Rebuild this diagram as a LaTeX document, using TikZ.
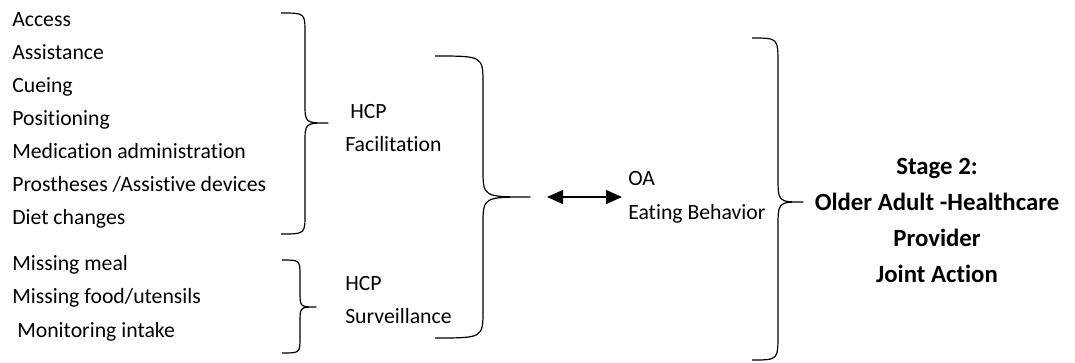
\documentclass[tikz,border=0pt]{standalone}
\usepackage{fontspec}
\setmainfont[RawFeature={-liga;-clig;-calt;-dlig}]{Carlito}
\usetikzlibrary{arrows.meta}
\begin{document}
\begin{tikzpicture}[x=0.75pt,y=-0.75pt,
  item/.style={anchor=base west,inner sep=0pt,font=\fontsize{16.3}{19}\selectfont},
  stage/.style={anchor=base,inner sep=0pt,font=\fontsize{18.6}{22}\selectfont\bfseries},
  bracket/.style={line width=0.9pt,line join=round},
  link/.style={line width=1pt,{Triangle[length=12pt,width=10.5pt]}-{Triangle[length=12pt,width=10.5pt]}}]
\useasboundingbox (0,0) rectangle (1075,362);
% right-facing curly brace: #1 x of ends, #2 x of spine, #3 x of tip,
% #4 top y, #5 tip y, #6 bottom y, #7 corner radius
\newcommand{\curlybrace}[7]{%
  \draw[bracket] (#1,#4) .. controls (#2,#4) .. (#2,#4+#7)
    -- (#2,#5-#7) .. controls (#2,#5) .. (#3,#5)
    .. controls (#2,#5) .. (#2,#5+#7)
    -- (#2,#6-#7) .. controls (#2,#6) .. (#1,#6);}
% facilitation items
\node[item] (f1) at (12,26)  {Access};
\node[item] (f2) at (12,59)  {Assistance};
\node[item] (f3) at (12,92)  {Cueing};
\node[item] (f4) at (12,125) {Positioning};
\node[item] (f5) at (12,158) {Medication administration};
\node[item] (f6) at (12,191) {Prostheses /Assistive devices};
\node[item] (f7) at (12,224) {Diet changes};
% surveillance items
\node[item] (s1) at (12,270) {Missing meal};
\node[item] (s2) at (12,303) {Missing food/utensils};
\node[item] (s3) at (17,337) {Monitoring intake};
% braces
\curlybrace{281}{305}{328}{13}{123}{234}{20}
\curlybrace{282}{300}{316}{260}{307}{353}{16}
\curlybrace{435}{483}{530}{56}{197}{338}{28}
\curlybrace{752}{778}{803}{38}{202}{360}{26}
% middle column
\node[item] (h1) at (350,118) {HCP};
\node[item] (h2) at (345,151) {Facilitation};
\node[item] (h3) at (345,290) {HCP};
\node[item] (h4) at (345,323) {Surveillance};
% OA behaviour
\node[item] (oa1) at (628,185) {OA};
\node[item] (oa2) at (628,219) {Eating Behavior};
\coordinate (al) at (547,197);
\coordinate (ar) at (622,197);
\draw[link] (al) -- (ar);
% stage label
\node[stage] (t1) at (937,174) {Stage 2:};
\node[stage] (t2) at (937,210) {Older Adult -Healthcare};
\node[stage] (t3) at (937,246) {Provider};
\node[stage] (t4) at (937,282) {Joint Action};
\end{tikzpicture}
\end{document}
